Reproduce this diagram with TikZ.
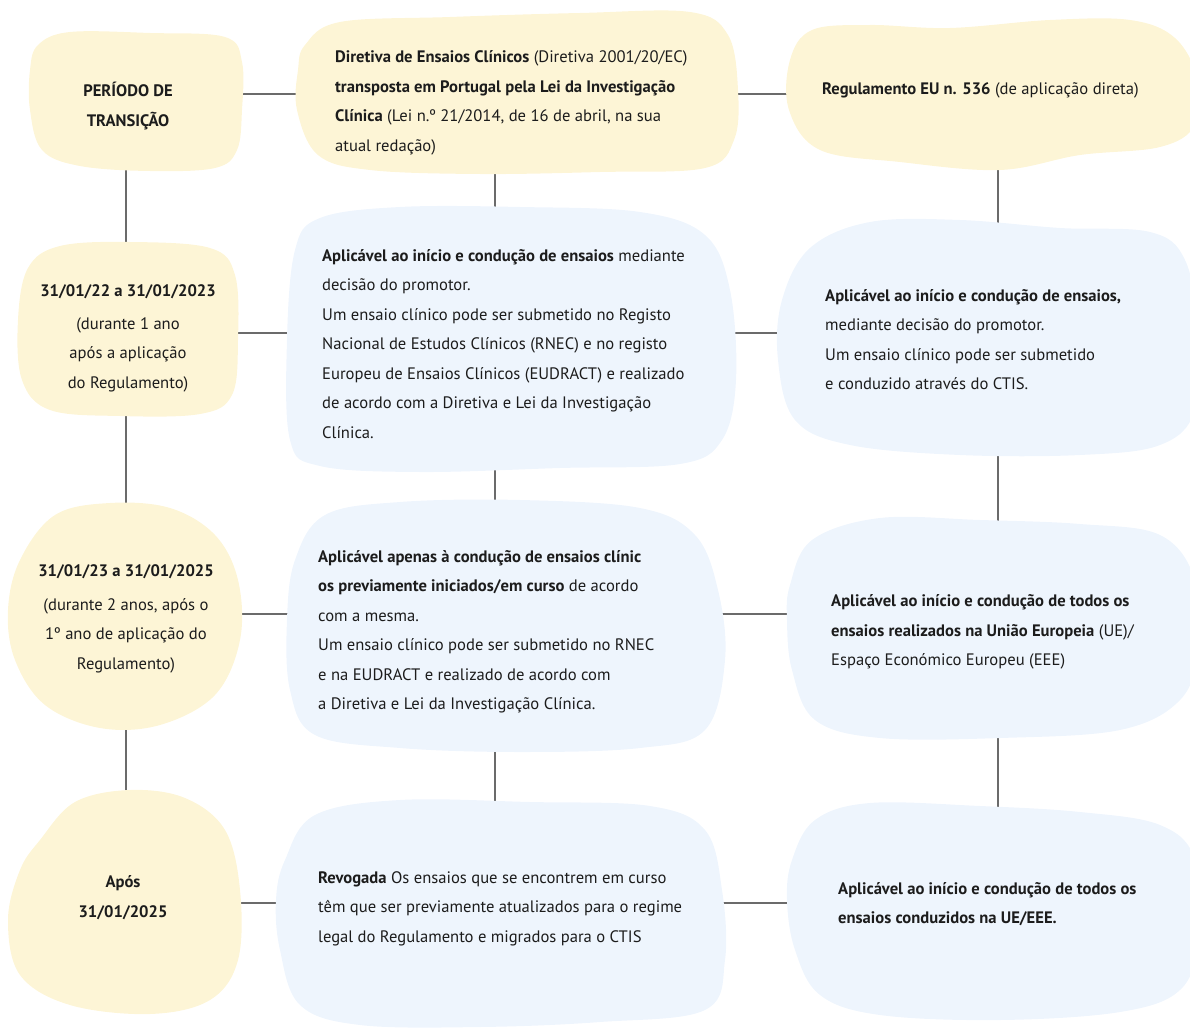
\documentclass[tikz,border=0pt]{standalone}
\usepackage{fontspec}
\setmainfont{PT Sans}
\definecolor{cream}{HTML}{FDF5D6}
\definecolor{sky}{HTML}{EEF5FD}
\definecolor{wire}{HTML}{6B6B6B}
\definecolor{ink}{HTML}{1C1C1C}
\tikzset{
  area/.style={inner sep=0pt, draw=none},
  link/.style={draw=wire, line width=1.6pt},
  txt/.style={font=\fontsize{16.6}{29.5}\selectfont, text=ink, inner sep=0pt, align=left, anchor=west},
  ctxt/.style={font=\fontsize{16.6}{29.5}\selectfont, text=ink, inner sep=0pt, align=center, anchor=center},
  blobshape/.style={smooth cycle, tension=0.6},
}
\begin{document}
\begin{tikzpicture}[x=1pt,y=-1pt]
\useasboundingbox (0,0) rectangle (1190,1027);

% reference areas of the blobs (used as connector ends)
\node[area, minimum width=213, minimum height=140] (L1) at (136.5,100) {};
\node[area, minimum width=220, minimum height=172] (L2) at (128,329) {};
\node[area, minimum width=232, minimum height=226] (L3) at (124,615) {};
\node[area, minimum width=232, minimum height=225] (L4) at (124,902.5) {};
\node[area, minimum width=441, minimum height=162] (M1) at (517.5,91) {};
\node[area, minimum width=448, minimum height=262] (M2) at (511,339) {};
\node[area, minimum width=437, minimum height=246] (M3) at (506.5,625) {};
\node[area, minimum width=449, minimum height=227] (M4) at (500.5,913.5) {};
\node[area, minimum width=402, minimum height=153] (R1) at (989,93.5) {};
\node[area, minimum width=412, minimum height=233] (R2) at (984,341.5) {};
\node[area, minimum width=403, minimum height=218] (R3) at (988.5,631) {};
\node[area, minimum width=403, minimum height=210] (R4) at (988.5,915) {};

% guide coordinates for the connector rows and columns
\coordinate (h1) at (0,94);
\coordinate (h2) at (0,333);
\coordinate (h3) at (0,614);
\coordinate (h4) at (0,903);
\coordinate (v1) at (126,0);
\coordinate (v2) at (495,0);
\coordinate (v3) at (998,0);

% connectors (drawn first, the blobs cover their ends)
\foreach \a/\b/\h in {L1/M1/h1, M1/R1/h1, L2/M2/h2, M2/R2/h2, L3/M3/h3, M3/R3/h3, L4/M4/h4, M4/R4/h4}
  \draw[link] (\a |- \h) -- (\b |- \h);
\foreach \a/\b/\v in {L1/L2/v1, L2/L3/v1, L3/L4/v1, M1/M2/v2, M2/M3/v2, M3/M4/v2, R1/R2/v3, R2/R3/v3, R3/R4/v3}
  \draw[link] (\v |- \a) -- (\v |- \b);

% yellow blobs
\fill[cream] plot[blobshape] coordinates {(38,45) (70,32) (150,33) (225,37) (242,62) (242,110) (237,150) (215,168) (150,171) (80,166) (42,150) (30,110) (30,70)};
\fill[cream] plot[blobshape] coordinates {(305,45) (340,22) (450,17) (580,13) (690,12) (728,35) (738,90) (734,140) (705,168) (600,172) (480,174) (370,170) (318,155) (297,110) (298,70)};
\fill[cream] plot[blobshape] coordinates {(790,60) (812,30) (870,25) (950,28) (1050,20) (1130,20) (1175,38) (1198,80) (1195,125) (1160,147) (1080,155) (1000,170) (900,162) (820,150) (789,110)};
\fill[cream] plot[blobshape] coordinates {(28,268) (60,246) (130,242) (210,248) (235,275) (238,340) (232,395) (200,414) (120,416) (50,410) (22,380) (18,320)};
\fill[cream] plot[blobshape] coordinates {(20,560) (55,515) (110,503) (170,508) (215,535) (238,580) (240,640) (215,695) (160,725) (100,728) (45,705) (15,660) (8,610)};
\fill[cream] plot[blobshape] coordinates {(40,840) (75,802) (130,790) (185,798) (225,830) (240,890) (238,960) (210,1000) (150,1014) (70,1005) (20,975) (8,920) (20,870)};

% blue blobs
\fill[sky] plot[blobshape] coordinates {(295,250) (320,218) (400,207) (520,207) (640,212) (705,235) (730,290) (736,380) (722,440) (680,464) (560,468) (420,472) (320,466) (290,440) (287,340)};
\fill[sky] plot[blobshape] coordinates {(782,300) (810,248) (870,222) (960,220) (1060,228) (1150,232) (1185,260) (1198,330) (1195,410) (1160,445) (1080,455) (960,455) (850,445) (795,420) (778,360)};
\fill[sky] plot[blobshape] coordinates {(295,560) (325,515) (400,502) (520,500) (640,508) (695,535) (718,590) (725,660) (705,730) (640,748) (520,752) (400,748) (315,735) (290,690) (287,620)};
\fill[sky] plot[blobshape] coordinates {(790,585) (812,540) (880,518) (980,520) (1080,524) (1160,535) (1195,580) (1198,650) (1180,700) (1120,730) (1000,738) (880,738) (815,720) (792,670) (787,620)};
\fill[sky] plot[blobshape] coordinates {(285,860) (315,815) (400,800) (530,802) (650,806) (705,830) (722,890) (725,960) (705,1010) (600,1022) (480,1027) (360,1025) (300,1005) (280,950) (276,900)};
\fill[sky] plot[blobshape] coordinates {(792,860) (815,820) (870,803) (980,806) (1080,812) (1160,825) (1195,860) (1198,940) (1180,990) (1120,1012) (1000,1020) (880,1015) (820,995) (795,950) (787,900)};

% texts, first column
\node[ctxt, font=\fontsize{16.6}{30}\selectfont\bfseries] (tL1) at (128,106) {PERÍODO DE\\TRANSIÇÃO};
\node[ctxt] (tL2) at (128,338) {\textbf{31/01/22 a 31/01/2023}\\[3.5pt](durante 1 ano\\após a aplicação\\do Regulamento)};
\node[ctxt] (tL3) at (126,619) {\textbf{31/01/23 a 31/01/2025}\\[4pt](durante 2 anos, após o\\1º ano de aplicação do\\Regulamento)};
\node[ctxt, font=\fontsize{16.6}{29.5}\selectfont\bfseries] (tL4) at (123,897.5) {Após\\31/01/2025};

% texts, second column
\node[txt] (tM1) at (335,103) {\textbf{Diretiva de Ensaios Clínicos} (Diretiva 2001/20/EC)\\\textbf{transposta em Portugal pela Lei da Investigação}\\\textbf{Clínica} (Lei n.º 21/2014, de 16 de abril, na sua\\atual redação)};
\node[txt] (tM2) at (322,343.7) {\textbf{Aplicável ao início e condução de ensaios} mediante\\decisão do promotor.\\Um ensaio clínico pode ser submetido no Registo\\Nacional de Estudos Clínicos (RNEC) e no registo\\Europeu de Ensaios Clínicos (EUDRACT) e realizado\\de acordo com a Diretiva e Lei da Investigação\\Clínica.};
\node[txt] (tM3) at (318,631.8) {\textbf{Aplicável apenas à condução de ensaios clínic}\\\textbf{os previamente iniciados/em curso} de acordo\\com a mesma.\\Um ensaio clínico pode ser submetido no RNEC\\e na EUDRACT e realizado de acordo com\\a Diretiva e Lei da Investigação Clínica.};
\node[txt] (tM4) at (318,908.7) {\textbf{Revogada} Os ensaios que se encontrem em curso\\têm que ser previamente atualizados para o regime\\legal do Regulamento e migrados para o CTIS};

% texts, third column
\node[txt] (tR1) at (822,90) {\textbf{Regulamento EU n. 536} (de aplicação direta)};
\node[txt] (tR2) at (825,339.5) {\textbf{Aplicável ao início e condução de ensaios,}\\mediante decisão do promotor.\\Um ensaio clínico pode ser submetido\\e conduzido através do CTIS.};
\node[txt] (tR3) at (831,632.3) {\textbf{Aplicável ao início e condução de todos os}\\\textbf{ensaios realizados na União Europeia} (UE)/\\Espaço Económico Europeu (EEE)};
\node[txt] (tR4) at (838,904) {\textbf{Aplicável ao início e condução de todos os}\\\textbf{ensaios conduzidos na UE/EEE.}};
\end{tikzpicture}
\end{document}
